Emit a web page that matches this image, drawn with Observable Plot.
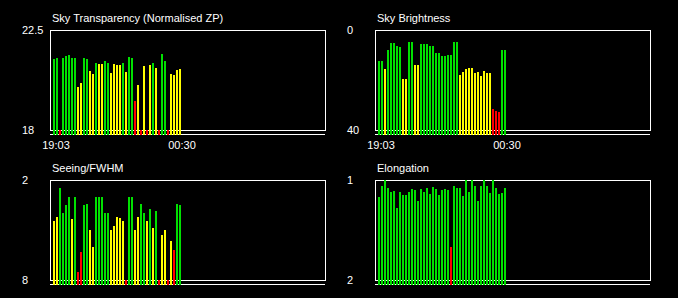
<!DOCTYPE html>
<html><head><meta charset="utf-8">
<script src="https://cdn.jsdelivr.net/npm/d3@7"></script>
<script src="https://cdn.jsdelivr.net/npm/@observablehq/plot@0.6"></script>
<style>
html,body{margin:0;padding:0;background:#000;width:678px;height:298px;overflow:hidden}
#wrap{position:relative;width:678px;height:298px;background:#000}
</style></head><body><div id="wrap"></div>
<script>
// time tick labels (at first and last exposure slot)
const slotTicks = [0, 42];
const slotLabels = ["19:03", "00:30"];

// Sky Transparency (Normalised ZP); null = no measurement
const transparency = [21.18, 21.26, null, 21.23, 21.35, 21.39, 21.23, 21.26, 19.95, 20.13,
  21.23, 21.18, 20.67, 20.54, 21.03, 20.99, 20.99, 21.12, 21.03, 20.58,
  20.99, 20.94, 20.94, 21.03, 20.63, 21.30, 21.23, 19.32, 20.04, null,
  20.90, null, 20.94, 21.03, 20.81, null, 21.44, 21.12, null, 20.54,
  20.49, 20.72, 20.76];
const transparencyStatus = ["g","g","r","g","g","g","g","g","y","y",
  "g","g","y","y","g","y","y","g","g","y",
  "y","y","y","g","y","g","g","r","y","r",
  "y","r","y","g","y","r","g","g","r","y",
  "y","y","y"];
const transparencyTicks = [22.5, 18];

// Sky Brightness
const brightness = [12.27, 12.27, 15.47, 7.87, 5.07, 5.07, 6.27, 6.67, 19.47, 19.47,
  4.67, 4.67, 13.87, 13.87, 5.47, 5.47, 5.47, 6.27, 6.27, 9.07,
  9.07, 10.27, 10.27, 9.87, 9.87, 4.67, 4.67, 17.87, 16.67, 15.47,
  15.07, 15.07, 17.07, 16.67, 18.27, 16.27, 17.07, 17.07, 31.47, 32.27,
  32.67, 7.87, 7.87];
const brightnessStatus = ["g","g","y","g","g","g","g","g","y","y",
  "g","g","y","y","g","g","g","g","g","g",
  "g","g","g","g","g","g","g","y","y","y",
  "y","y","y","y","y","y","y","y","r","r",
  "r","g","g"];
const brightnessTicks = [0, 40];

// Seeing / FWHM
const seeing = [4.44, 4.20, 2.46, 3.96, 3.48, 3.00, 4.32, 3.00, 7.50, 6.30,
  3.48, 3.42, 4.98, 6.00, 3.00, 3.00, 3.00, 3.96, 3.96, 4.98,
  4.74, 4.20, 4.26, 4.44, null, 3.00, 3.00, 4.98, 4.20, 3.42,
  3.96, 4.44, 3.72, 4.86, 3.84, null, 5.28, 4.98, null, 5.64,
  6.18, 3.42, 3.48];
const seeingStatus = ["y","y","g","g","g","g","y","g","r","r",
  "g","g","y","y","g","g","g","g","g","y",
  "y","y","y","y","r","g","g","y","y","g",
  "g","y","g","y","g","r","y","y","r","y",
  "r","g","g"];
const seeingTicks = [2, 8];

// Elongation
const elongation = [1.167, 1.057, 1.0, 1.077, 1.117, 1.107, 1.277, 1.117, 1.147, 1.147,
  1.117, 1.087, 1.097, 1.207, 1.087, 1.117, 1.077, 1.137, 1.067, 1.087,
  1.147, 1.097, 1.087, 1.097, 1.667, 1.057, 1.077, 1.077, 1.157, 1.0,
  1.117, 1.0, 1.057, 1.207, 1.057, 1.0, 1.057, 1.127, 1.0, 1.077,
  1.137, 1.127, 1.077];
const elongationStatus = ["g","g","g","g","g","g","g","g","g","g",
  "g","g","g","g","g","g","g","g","g","g",
  "g","g","g","g","r","g","g","g","g","g",
  "g","g","g","g","g","g","g","g","g","g",
  "g","g","g"];
const elongationTicks = [1, 2];

const statusKeys = ["g", "y", "r"];
const statusColours = ["#00e000", "#ffff00", "#ff0000"];

function panel({title, values, status, ticks, showTime}) {
  const [top, bottom] = ticks;
  const data = values.map((v, i) => ({i, v, s: status[i]}));
  const present = data.filter(d => d.v != null);
  const missing = data.filter(d => d.v == null);
  const marks = [
    Plot.frame({stroke: "#fff"}),
    Plot.ruleY([bottom], {dy: 4, stroke: "#fff"}),
    Plot.rect(present, {x1: d => d.i - 1/3, x2: d => d.i + 1/3, y1: () => bottom, y2: "v",
      fill: "s", insetBottom: -4.5, shapeRendering: "crispEdges"}),
    Plot.rect(missing, {x1: d => d.i - 1/3, x2: d => d.i + 1/3, y1: () => bottom, y2: () => bottom,
      fill: "s", insetBottom: -4.5, insetTop: -0.5, shapeRendering: "crispEdges"}),
    Plot.text([title], {frameAnchor: "top-left", textAnchor: "start", lineAnchor: "bottom",
      dx: 1.5, dy: -8.5, fill: "#fff"}),
    Plot.axisY(ticks, {tickSize: 0, tickPadding: 0, textAnchor: "start", dx: -28.5,
      tickFormat: d => String(d), label: null, fill: "#fff"})
  ];
  if (showTime) {
    marks.push(Plot.axisX(slotTicks, {tickSize: 0, tickPadding: 11, dx: 2, label: null, fill: "#fff",
      tickFormat: d => slotLabels[slotTicks.indexOf(d)]}));
  }
  return Plot.plot({
    width: 340, height: 150,
    marginLeft: 50, marginRight: 15, marginTop: 30, marginBottom: 20,
    style: {background: "transparent", color: "#fff", fontFamily: "'Liberation Sans', Arial, sans-serif",
      fontSize: "11px", overflow: "visible"},
    x: {domain: [0, 42], range: [53.5, 179.5], axis: null},
    y: {domain: [bottom, top], axis: null},
    color: {domain: statusKeys, range: statusColours},
    marks
  });
}

const wrap = document.getElementById("wrap");
const panels = [
  {title: "Sky Transparency (Normalised ZP)", values: transparency, status: transparencyStatus, ticks: transparencyTicks, showTime: true, left: 0, top: 0},
  {title: "Sky Brightness", values: brightness, status: brightnessStatus, ticks: brightnessTicks, showTime: true, left: 325, top: 0},
  {title: "Seeing/FWHM", values: seeing, status: seeingStatus, ticks: seeingTicks, showTime: false, left: 0, top: 150},
  {title: "Elongation", values: elongation, status: elongationStatus, ticks: elongationTicks, showTime: false, left: 325, top: 150}
];
for (const p of panels) {
  const svg = panel(p);
  svg.style.position = "absolute";
  svg.style.left = p.left + "px";
  svg.style.top = p.top + "px";
  wrap.appendChild(svg);
}
</script></body></html>
